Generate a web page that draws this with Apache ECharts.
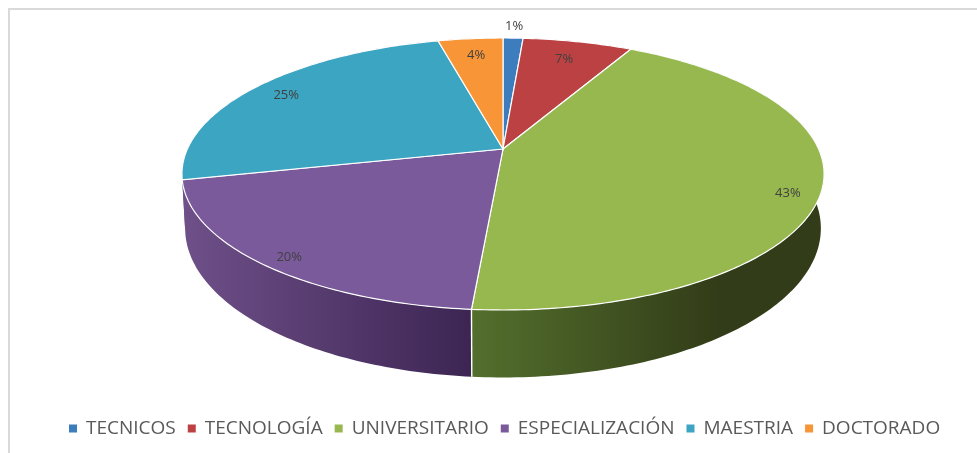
<!DOCTYPE html>
<html>
<head>
<meta charset="utf-8">
<style>
html, body { margin: 0; padding: 0; background: #fff; }
#main { width: 977px; height: 453px; }
</style>
<script src="https://cdn.jsdelivr.net/npm/echarts@6/dist/echarts.min.js"></script>
</head>
<body>
<div id="main"></div>
<script>
var categories = ['TECNICOS', 'TECNOLOGÍA', 'UNIVERSITARIO', 'ESPECIALIZACIÓN', 'MAESTRIA', 'DOCTORADO'];
var shares = [1.2, 6.6, 43.5, 20.1, 24.7, 3.9];
var shareLabels = ['1%', '7%', '43%', '20%', '25%', '4%'];

var topColors = ['#3d7dbd', '#bb4142', '#96b84f', '#7a5a9a', '#3ca5c1', '#f79537'];
// wall shading, left to right
var wallColors = [
    ['#2f5f90', '#2f5f90'],
    ['#8e3132', '#8e3132'],
    ['#536f2d', '#323c18'],
    ['#6f5089', '#3c2553'],
    ['#6f5089', '#6f5089'],
    ['#bb7029', '#bb7029']
];
var wallRanges = [[0, 977], [0, 977], [471, 720], [182, 471], [0, 977], [0, 977]];
// how far from the apex each label sits, 1 = on the rim
var labelRadius = [1.14, 0.82, 0.9, 0.92, 0.86, 0.83];
var labelNudge = [[0, 1], [-2, 1], [-1, 9], [4, 3], [-3, 1], [1, 0]];

// the disc is seen in perspective, so the apex is not the middle of the ellipse
var apexX = 503, apexY = 149;
var spreadX = 315.6, spreadY = 131.4, tilt = 0.1838;
// lower rim relative to the upper one
var bottomScaleX = 0.99, bottomScaleY = 1.096, bottomDrop = 52;

var total = shares.reduce(function (a, b) { return a + b; }, 0);
var bounds = [0];
shares.forEach(function (s, i) { bounds.push(bounds[i] + s); });

function toAngle(share) {
    return echarts.number.linearMap(share, [0, total], [0, Math.PI * 2]);
}

function project(angle, r) {
    var u = r * Math.sin(angle), v = -r * Math.cos(angle);
    var w = 1 - tilt * v;
    return [apexX + spreadX * u / w, apexY + spreadY * v / w];
}

function rimPoints(i) {
    var a0 = toAngle(bounds[i]), a1 = toAngle(bounds[i + 1]);
    var steps = Math.ceil((a1 - a0) * 60), pts = [];
    for (var k = 0; k <= steps; k++) {
        pts.push(project(a0 + (a1 - a0) * k / steps, 1));
    }
    return pts;
}

function renderWall(params) {
    var i = params.dataIndex;
    var top = rimPoints(i);
    var bottom = top.map(function (p) {
        return [
            apexX + (p[0] - apexX) * bottomScaleX,
            apexY + (p[1] - apexY) * bottomScaleY + bottomDrop
        ];
    });
    var last = top.length - 1;
    return {
        type: 'group',
        children: [{
            type: 'polygon',
            shape: { points: top.concat(bottom.slice().reverse()) },
            style: {
                fill: new echarts.graphic.LinearGradient(wallRanges[i][0], 0, wallRanges[i][1], 0, [
                    { offset: 0, color: wallColors[i][0] },
                    { offset: 1, color: wallColors[i][1] }
                ], true)
            }
        }, {
            // white seam where this slice's wall ends
            type: 'line',
            z2: 5,
            shape: { x1: top[last][0], y1: top[last][1], x2: bottom[last][0], y2: bottom[last][1] },
            style: { stroke: i === 2 ? '#fff' : 'none', lineWidth: 1.4 }
        }]
    };
}

function renderSlice(i) {
    var mid = toAngle((bounds[i] + bounds[i + 1]) / 2);
    var at = project(mid, labelRadius[i]);
    return {
        type: 'group',
        children: [{
            type: 'polygon',
            shape: { points: [[apexX, apexY]].concat(rimPoints(i)) },
            style: { fill: topColors[i], stroke: '#fff', lineWidth: 1.2 }
        }, {
            type: 'text',
            z2: 10,
            style: {
                x: at[0] + labelNudge[i][0],
                y: at[1] + labelNudge[i][1],
                text: shareLabels[i],
                fill: '#404040',
                font: '13px "Open Sans"',
                align: 'center',
                verticalAlign: 'middle'
            }
        }]
    };
}

var series = [{
    type: 'custom',
    name: 'wall',
    coordinateSystem: 'none',
    silent: true,
    z: 1,
    data: shares,
    renderItem: renderWall
}];
categories.forEach(function (name, i) {
    series.push({
        type: 'custom',
        name: name,
        coordinateSystem: 'none',
        silent: true,
        z: 2,
        itemStyle: { color: topColors[i] },
        data: [shares[i]],
        renderItem: function () { return renderSlice(i); }
    });
});

var myChart = echarts.init(document.getElementById('main'));
myChart.setOption({
    backgroundColor: '#fff',
    animation: false,
    color: topColors,
    graphic: [{
        type: 'polyline',
        shape: { points: [[9, 453], [9, 9], [977, 9]] },
        style: { fill: 'none', stroke: '#d9d9d9', lineWidth: 2 }
    }],
    legend: {
        data: categories,
        left: 69,
        top: 419,
        padding: 0,
        icon: 'rect',
        itemWidth: 8,
        itemHeight: 8,
        itemGap: 12,
        textStyle: {
            color: '#595959',
            fontFamily: 'Open Sans',
            fontSize: 19,
            padding: [0, 0, 0, 4]
        }
    },
    series: series
});
</script>
</body>
</html>
